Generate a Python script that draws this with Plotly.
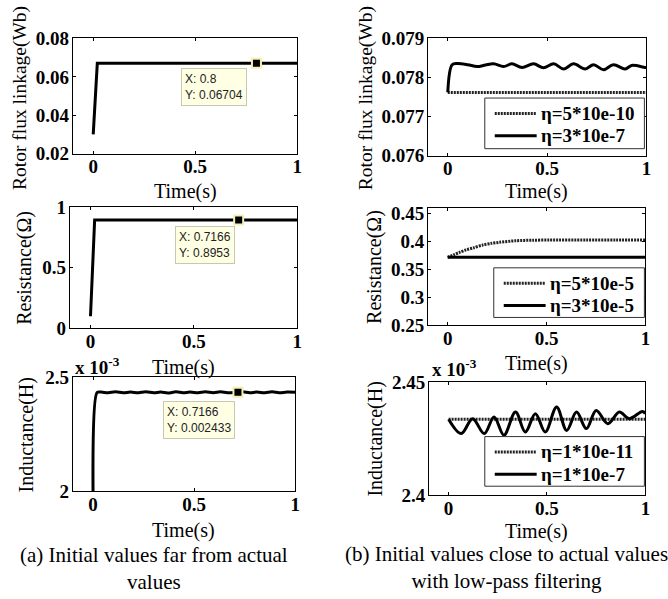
import plotly.graph_objects as go

W, H = 668, 599

# ---------------- data ----------------
# (a) initial values far from the actual values
t_flux_a = [0.0, 0.02, 0.1, 0.3, 0.5, 0.8, 1.0]
flux_a = [0.030, 0.06704, 0.06704, 0.06704, 0.06704, 0.06704, 0.06704]
tip_flux_a = (0.8, 0.06704)

t_res_a = [0.0, 0.02, 0.1, 0.3, 0.5, 0.7166, 1.0]
res_a = [0.10, 0.8953, 0.8953, 0.8953, 0.8953, 0.8953, 0.8953]
tip_res_a = (0.7166, 0.8953)

t_ind_a = [0.0, 0.02, 0.04, 0.075, 0.11, 0.15, 0.185, 0.225, 0.26, 0.30, 0.335,
           0.37, 0.41, 0.445, 0.48, 0.52, 0.555, 0.595, 0.63, 0.665, 0.7166,
           0.74, 0.775, 0.81, 0.85, 0.885, 0.92, 0.96, 1.0]
ind_a = [0.00199, 0.002432, 0.002434, 0.002431, 0.002435, 0.002431, 0.002434,
         0.002431, 0.002435, 0.002431, 0.002434, 0.002430, 0.002435, 0.002431,
         0.002434, 0.002431, 0.002435, 0.002431, 0.002435, 0.002431, 0.002433,
         0.002435, 0.002431, 0.002434, 0.002431, 0.002435, 0.002431, 0.002434,
         0.002433]
tip_ind_a = (0.7166, 0.002433)

# (b) initial values close to the actual values, with low-pass filtering
t_flux_b_slow = [0.0, 1.0]
flux_b_slow = [0.07762, 0.07762]
t_flux_b_fast = [0.0, 0.022, 0.047, 0.10, 0.147, 0.19, 0.231, 0.281, 0.323, 0.374,
                 0.432, 0.482, 0.533, 0.583, 0.633, 0.692, 0.734, 0.784, 0.834,
                 0.893, 0.926, 0.993, 1.0]
flux_b_fast = [0.07762, 0.07833, 0.07836, 0.07833, 0.07828, 0.07832, 0.07835,
               0.07828, 0.07835, 0.07826, 0.07835, 0.07825, 0.07835, 0.07822,
               0.07835, 0.07822, 0.07833, 0.07820, 0.07833, 0.07822, 0.07831,
               0.07826, 0.07826]

t_res_b_slow = [0.0, 0.03, 0.06, 0.093, 0.13, 0.178, 0.22, 0.262, 0.346, 0.43,
                0.514, 0.7, 0.85, 1.0]
res_b_slow = [0.372, 0.3765, 0.381, 0.3853, 0.389, 0.3942, 0.397, 0.399, 0.4018,
              0.4027, 0.403, 0.4032, 0.4032, 0.403]
t_res_b_fast = [0.0, 1.0]
res_b_fast = [0.3723, 0.3723]

t_ind_b_slow = [0.0, 1.0]
ind_b_slow = [0.0024335, 0.0024335]
t_ind_b_fast = [0.0, 0.064, 0.122, 0.181, 0.231, 0.281, 0.340, 0.390, 0.441, 0.491,
                0.549, 0.600, 0.650, 0.700, 0.750, 0.809, 0.868, 0.918, 0.985, 1.0]
ind_b_fast = [0.0024335, 0.0024272, 0.0024338, 0.0024272, 0.0024345, 0.0024265,
              0.0024367, 0.0024279, 0.0024360, 0.0024279, 0.0024389, 0.0024286,
              0.0024367, 0.0024294, 0.0024374, 0.0024316, 0.0024367, 0.0024338,
              0.0024370, 0.0024360]

legend_flux = ["η=5*10e-10", "η=3*10e-7"]
legend_res = ["η=5*10e-5", "η=3*10e-5"]
legend_ind = ["η=1*10e-11", "η=1*10e-7"]

x_ticks = [0, 0.5, 1]
x_ticktext = ["0", "0.5", "1"]

caption_a = "(a) Initial values far from actual<br>values"
caption_b = "(b) Initial values close to actual values<br>with low-pass filtering"

# ---------------- styling ----------------
SERIF = "Liberation Serif, Times New Roman, serif"
SANS = "Liberation Sans, Arial, sans-serif"
TICK_FONT = dict(family=SERIF, size=19, color="black", weight="bold")
TITLE_FONT = dict(family=SERIF, size=20, color="black")
DOT = "2px,1px"
DOT_COLOR = "#222"

# page placement: the figure sits slightly inset and squeezed vertically on the page,
# so layout positions are given in page pixels and converted to paper fractions here
SX, OY, SY = 0.995, 8.3, 0.972


def X(px):
    return (px / SX) / W


def Y(py):
    return 1 - ((py - OY) / SY) / H


def xd(left, right):
    return [X(left), X(right)]


def yd(top, bottom):
    return [Y(bottom), Y(top)]


fig = go.Figure()


def line(x, y, ax, dotted=False, name=None, smooth=0.0):
    fig.add_trace(go.Scatter(
        x=x, y=y, xaxis="x" + ax, yaxis="y" + ax, mode="lines",
        line=dict(color=DOT_COLOR if dotted else "black", width=3,
                  dash=DOT if dotted else "solid",
                  shape="spline" if smooth else "linear",
                  smoothing=smooth if smooth else None),
        name=name, showlegend=False, hoverinfo="skip"))


def tip(pt, ax):
    fig.add_trace(go.Scatter(
        x=[pt[0]], y=[pt[1]], xaxis="x" + ax, yaxis="y" + ax, mode="markers",
        marker=dict(symbol="square", size=9, color="black",
                    line=dict(color="#f4f0b0", width=2)),
        showlegend=False, hoverinfo="skip"))


# left column
line(t_flux_a, flux_a, "")
tip(tip_flux_a, "")
line(t_res_a, res_a, "2")
tip(tip_res_a, "2")
line(t_ind_a, ind_a, "3", smooth=0.8)
tip(tip_ind_a, "3")

# right column
line(t_flux_b_slow, flux_b_slow, "4", dotted=True, name=legend_flux[0])
line(t_flux_b_fast, flux_b_fast, "4", name=legend_flux[1], smooth=1.0)
line(t_res_b_slow, res_b_slow, "5", dotted=True, name=legend_res[0], smooth=0.8)
line(t_res_b_fast, res_b_fast, "5", name=legend_res[1])
line(t_ind_b_slow, ind_b_slow, "6", dotted=True, name=legend_ind[0])
line(t_ind_b_fast, ind_b_fast, "6", name=legend_ind[1], smooth=1.0)


def xaxis(dom, anchor):
    return dict(domain=dom, anchor=anchor, range=[-0.1, 1.0], tickvals=x_ticks,
                ticktext=x_ticktext, ticks="inside", ticklen=3, tickcolor="black",
                showline=True, linecolor="black", linewidth=1, mirror="ticks",
                showgrid=False, zeroline=False, tickfont=TICK_FONT,
                ticklabelstandoff=-4)


def yaxis(dom, anchor, rng, vals, text):
    return dict(domain=dom, anchor=anchor, range=rng, tickvals=vals, ticktext=text,
                ticks="inside", ticklen=3, tickcolor="black", showline=True,
                linecolor="black", linewidth=1, mirror="ticks", showgrid=False,
                zeroline=False, tickfont=TICK_FONT, ticklabelstandoff=-1)


layout = dict(
    width=W, height=H, margin=dict(l=0, r=0, t=0, b=0), showlegend=False,
    paper_bgcolor="white", plot_bgcolor="white",
    xaxis=xaxis(xd(73, 298), "y"),
    yaxis=yaxis(yd(37, 153), "x", [0.02, 0.08], [0.02, 0.04, 0.06, 0.08],
                ["0.02", "0.04", "0.06", "0.08"]),
    xaxis2=xaxis(xd(70, 298), "y2"),
    yaxis2=yaxis(yd(207, 329), "x2", [0, 1], [0, 0.5, 1], ["0", "0.5", "1"]),
    xaxis3=xaxis(xd(73, 296), "y3"),
    yaxis3=yaxis(yd(378, 493), "x3", [0.002, 0.0025], [0.002, 0.0025], ["2", "2.5"]),
    xaxis4=xaxis(xd(429, 648), "y4"),
    yaxis4=yaxis(yd(37, 155), "x4", [0.076, 0.079], [0.076, 0.077, 0.078, 0.079],
                 ["0.076", "0.077", "0.078", "0.079"]),
    xaxis5=xaxis(xd(429, 647), "y5"),
    yaxis5=yaxis(yd(208, 326), "x5", [0.25, 0.46], [0.25, 0.3, 0.35, 0.4, 0.45],
                 ["0.25", "0.3", "0.35", "0.4", "0.45"]),
    xaxis6=xaxis(xd(430, 647), "y6"),
    yaxis6=yaxis(yd(383, 497), "x6", [0.0024, 0.00245], [0.0024, 0.00245],
                 ["2.4", "2.45"]),
)
fig.update_layout(**layout)

ann = []
shapes = []


def text(x, y, s, font, angle=0, xanchor="center"):
    ann.append(dict(x=X(x), y=Y(y), xref="paper", yref="paper", text=s,
                    showarrow=False, font=font, textangle=angle,
                    xanchor=xanchor, yanchor="middle"))


# boxed legends: (box left, box top, box right, box bottom, sample left, labels)
LEGEND_FONT = dict(family=SERIF, size=19, color="black", weight="bold")
for (bl, bt, br, bb, sl, labels) in [(486, 97, 646, 148, 496, legend_flux),
                                     (495, 268, 646, 318, 505, legend_res),
                                     (486, 438, 646, 488, 496, legend_ind)]:
    shapes.append(dict(type="rect", xref="paper", yref="paper", layer="above",
                       x0=X(bl), x1=X(br), y0=Y(bb), y1=Y(bt),
                       line=dict(color="#333", width=1), fillcolor="white"))
    for k, (lab, dotted) in enumerate(zip(labels, [True, False])):
        yy = bt + 15.5 + 22.5 * k
        shapes.append(dict(type="line", xref="paper", yref="paper", layer="above",
                           x0=X(sl), x1=X(sl + 42), y0=Y(yy), y1=Y(yy),
                           line=dict(color=DOT_COLOR if dotted else "black", width=3,
                                     dash=DOT if dotted else "solid")))
        text(sl + 44, yy, lab, LEGEND_FONT, xanchor="left")

# axis titles
FLUX_TITLE = dict(TITLE_FONT, size=19.5)
for (x, y, s, f) in [(20, 97, "Rotor flux linkage(Wb)", FLUX_TITLE),
                     (25, 268, "Resistance(Ω)", TITLE_FONT),
                     (27, 436, "Inductance(H)", TITLE_FONT),
                     (367, 97, "Rotor flux linkage(Wb)", FLUX_TITLE),
                     (376, 267, "Resistance(Ω)", TITLE_FONT),
                     (377, 440, "Inductance(H)", TITLE_FONT)]:
    text(x, y, s, f, angle=-90)
for (x, y) in [(186, 191), (184, 368), (184, 533), (538, 191), (538, 364), (538, 534)]:
    text(x, y, "Time(s)", TITLE_FONT)

# exponent labels
text(73, 367, "x 10<sup>-3</sup>", TICK_FONT, xanchor="left")
text(431, 369, "x 10<sup>-3</sup>", TICK_FONT, xanchor="left")

# captions
CAP_FONT = dict(family=SERIF, size=21, color="black")
text(154, 571, caption_a, CAP_FONT)
text(508, 570, caption_b, CAP_FONT)

# data tips
TIP_FONT = dict(family=SANS, size=12, color="#222")
for (pt, ax, xs, ys) in [(tip_flux_a, "", -9, -5), (tip_res_a, "2", -4, -6),
                         (tip_ind_a, "3", -3, -9)]:
    ann.append(dict(x=pt[0], y=pt[1], xref="x" + ax, yref="y" + ax,
                    text=f"X: {pt[0]:g}<br>Y: {pt[1]:g}", showarrow=False,
                    font=TIP_FONT, align="left", bgcolor="#ffffe4",
                    bordercolor="#c8c8b0", borderwidth=1, borderpad=3,
                    xanchor="right", yanchor="top", xshift=xs, yshift=ys))

fig.update_layout(annotations=ann, shapes=shapes)
fig.write_html("out.html")
